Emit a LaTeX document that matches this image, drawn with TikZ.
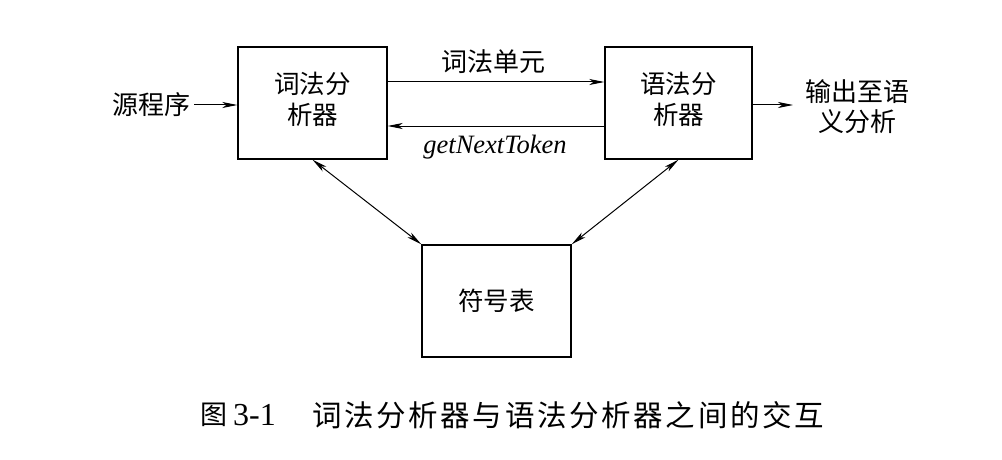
\documentclass[tikz,border=0pt]{standalone}
\usepackage{fontspec}
\setmainfont{Liberation Serif}
\newfontfamily\cjk{Noto Sans CJK SC}
\newfontfamily\cjkcap[LetterSpace=9]{Noto Sans CJK SC}
\usetikzlibrary{arrows.meta}
\begin{document}
\begin{tikzpicture}[x=1pt,y=-1pt,
  box/.style={draw,line width=1.4pt,minimum width=149pt,minimum height=112pt,inner sep=0pt,align=center,font=\cjk\fontsize{25.5}{30}\selectfont},
  lbl/.style={inner sep=0pt,align=center,font=\cjk\fontsize{26}{30}\selectfont},
  tip/.tip={Stealth[length=15pt,width=6pt,inset=4pt]},
  arr/.style={line width=1pt,-tip},
  darr/.style={line width=1pt,tip-tip}]
\useasboundingbox (0,0) rectangle (1002,460);
\node[box] (lex) at (312.5,103) {\raisebox{-2pt}{\begin{tabular}{@{}c@{}}词法分\\析器\end{tabular}}};
\node[box,minimum width=147pt] (par) at (678.5,103) {\raisebox{-2pt}{\begin{tabular}{@{}c@{}}语法分\\析器\end{tabular}}};
\node[box] (sym) at (496.5,301) {符号表};
\node[lbl] (src) at (151,105) {源程序};
\node[lbl] (tok) at (493,62) {词法单元};
\node[inner sep=0pt,font=\fontsize{26.5}{30}\selectfont\itshape] (gnt) at (495,147) {getNextToken};
\coordinate (oute) at (793,105);
\node[lbl] (out) at (857,107) {输出至语\\义分析};
\node[inner sep=0pt,anchor=west,font=\cjk\fontsize{27}{30}\selectfont] (cap0) at (200,415) {图};
\node[inner sep=0pt,anchor=west,font=\fontsize{32}{34}\selectfont] (cap1) at (233,415) {3-1};
\node[inner sep=0pt,anchor=west,font=\cjkcap\fontsize{29.5}{34}\selectfont] (cap2) at (312,415) {词法分析器与语法分析器之间的交互};
\draw[arr] ([xshift=4pt]src.east) -- (src.east -| lex.west);
\draw[arr] ([yshift=21pt]lex.east) -- ([yshift=21pt]par.west);
\draw[arr] ([yshift=-23pt]par.west) -- ([yshift=-23pt]lex.east);
\draw[arr] ([yshift=-2pt]par.east) -- (oute);
\draw[darr] (lex.south) -- (sym.north west);
\draw[darr] (par.south) -- (sym.north east);
\end{tikzpicture}
\end{document}
